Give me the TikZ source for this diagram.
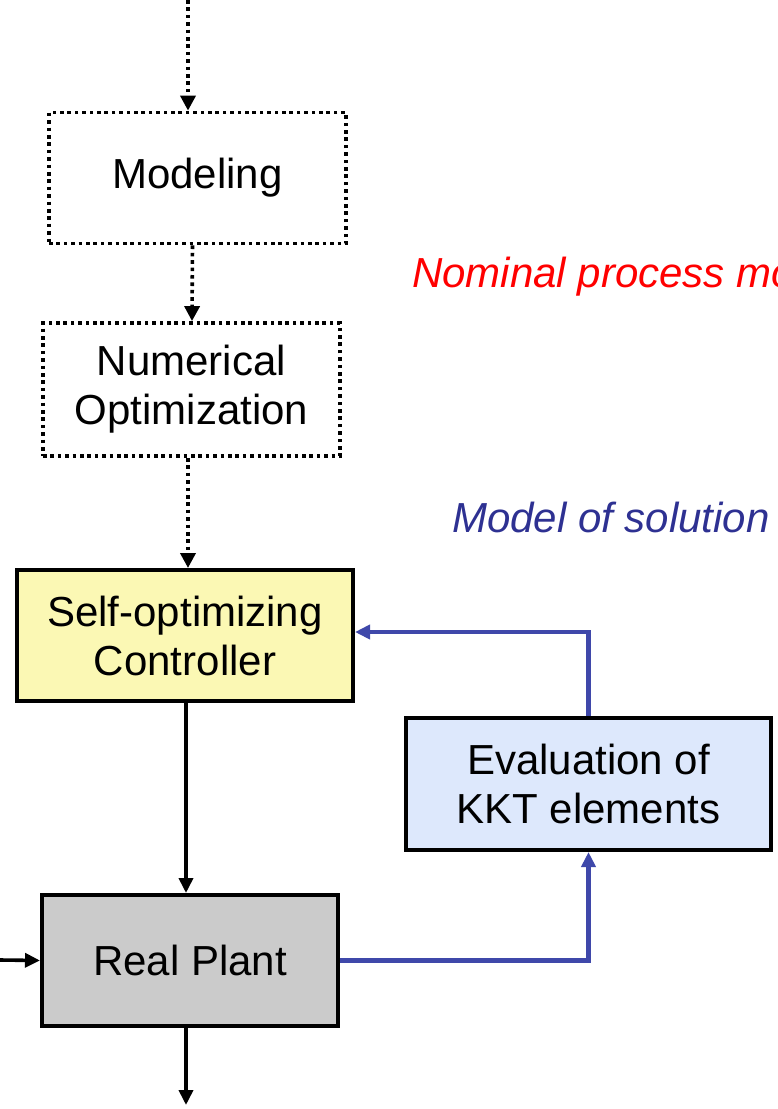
\documentclass[tikz,border=0pt]{standalone}
\usepackage{fontspec}
\setmainfont{Liberation Sans}
\usetikzlibrary{arrows.meta,calc}
\definecolor{ctrlfill}{HTML}{FBF8B4}
\definecolor{evalfill}{HTML}{DDE8FC}
\definecolor{plantfill}{HTML}{CBCBCB}
\definecolor{loopblue}{HTML}{3F48AA}
\definecolor{labelblue}{HTML}{2E3192}
\definecolor{labelred}{HTML}{FF0000}
\tikzset{
  blocktext/.style={font=\fontsize{42}{49}\selectfont, align=center, inner sep=0pt},
  dotbox/.style={blocktext, draw, line width=3.8pt, dash pattern=on 3.6pt off 3.8pt},
  solidbox/.style={blocktext, draw, line width=4pt},
  dotflow/.style={line width=3.6pt, dash pattern=on 3.6pt off 3.8pt, -{Triangle[length=15pt,width=15pt]}},
  flow/.style={line width=3.6pt, -{Triangle[length=15pt,width=14pt]}},
  loop/.style={loopblue, line width=4.4pt, -{Triangle[length=15pt,width=14pt]}},
  note/.style={font=\fontsize{42}{49}\selectfont\itshape, inner sep=0pt, anchor=west},
}
\begin{document}
\begin{tikzpicture}[x=1pt,y=-1pt]
\useasboundingbox (0,0) rectangle (778,1109);
\clip (0,0) rectangle (778,1109);

% blocks
\node[dotbox, minimum width=297pt, minimum height=131pt] (model) at (197.5,178) {Modeling};
\node[dotbox, minimum width=297pt, minimum height=133pt] (num) at (191.5,389.5) {Numerical\\Optimization};
\node[solidbox, fill=ctrlfill, minimum width=336pt, minimum height=131pt] (ctrl) at (185,635.5) {Self-optimizing\\Controller};
\node[solidbox, fill=plantfill, minimum width=296pt, minimum height=131pt] (plant) at (190,960.5) {Real Plant};
\node[solidbox, fill=evalfill, minimum width=365pt, minimum height=132pt] (eval) at (588.5,784) {Evaluation of\\KKT elements};

% side labels
\node[note, text=labelred] (nominal) at (412,277) {Nominal process model};
\node[note, text=labelblue] (solmodel) at (452,517) {Model of solution};

% free ends
\coordinate (topin) at (188,0);
\coordinate (leftin) at (0,960);
\coordinate (botout) at (186,1105);

% main chain
\draw[dotflow] (topin) -- (topin |- model.north);
\draw[dotflow] ($(model.south)+(-5,0)$) -- ($(num.north)+(0.5,0)$);
\draw[dotflow] ($(num.south)+(-3.5,0)$) -- ($(ctrl.north)+(3,0)$);
\draw[flow] ($(ctrl.south)+(1,0)$) -- ($(plant.north)+(-4,0)$);
\draw[flow] (leftin) -- (plant.west);
\draw[flow] ($(plant.south)+(-4,0)$) -- (botout);

% measurement feedback loop
\draw[loop] (plant.east) -| (eval.south);
\draw[loop] (eval.north) |- ($(ctrl.east)+(0,-3.5)$);
\end{tikzpicture}
\end{document}
